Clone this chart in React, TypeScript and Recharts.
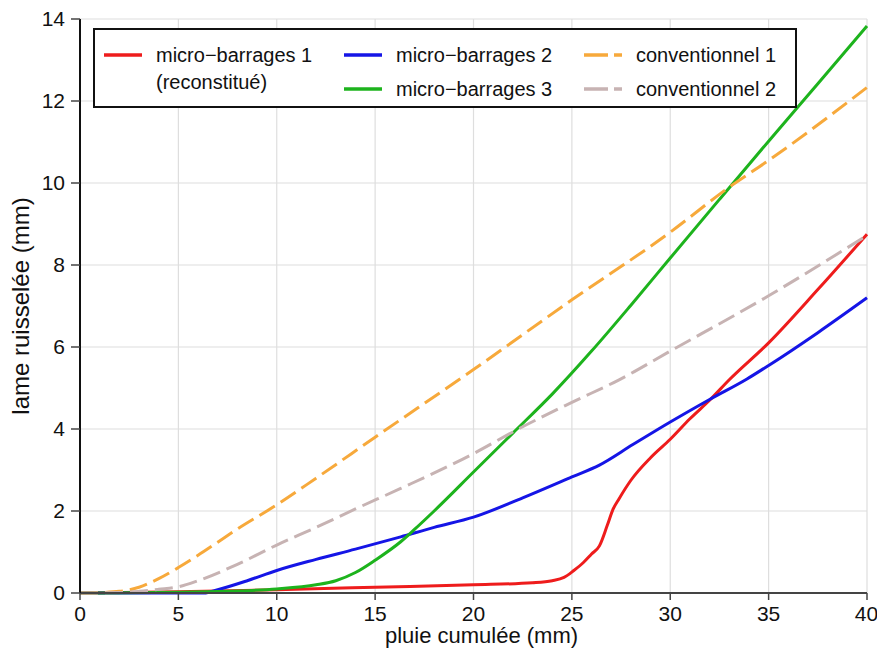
import React from 'react';
import { LineChart, Line, XAxis, YAxis, CartesianGrid, Legend } from 'recharts';

const xTicks = [0, 5, 10, 15, 20, 25, 30, 35, 40];
const yTicks = [0, 2, 4, 6, 8, 10, 12, 14];

// micro-barrages 1 (reconstitué)
const mb1X = [0, 5, 10, 15, 20, 23, 24, 24.6, 25.1, 25.6, 26, 26.4, 26.8, 27.1, 27.4, 28, 29, 30, 31, 32, 33, 35, 37.5, 40];
const mb1Y = [0, 0.03, 0.08, 0.14, 0.2, 0.25, 0.3, 0.38, 0.55, 0.75, 0.95, 1.15, 1.65, 2.05, 2.3, 2.75, 3.3, 3.75, 4.25, 4.7, 5.2, 6.1, 7.4, 8.75];

// micro-barrages 2
const mb2X = [0, 5, 6.3, 7, 8.5, 10, 12, 14, 16.3, 18, 20, 22.5, 25, 26.4, 28.1, 30, 32, 33.9, 35, 37.5, 40];
const mb2Y = [0, 0, 0, 0.08, 0.3, 0.55, 0.82, 1.07, 1.37, 1.6, 1.85, 2.32, 2.83, 3.12, 3.62, 4.17, 4.72, 5.22, 5.55, 6.35, 7.2];

// micro-barrages 3
const mb3X = [0, 5, 8, 10, 12, 13, 14, 15, 16.3, 17, 18, 20, 22, 24, 26, 28, 30, 32.5, 35, 37.5, 40];
const mb3Y = [0, 0.02, 0.05, 0.1, 0.2, 0.3, 0.5, 0.8, 1.25, 1.55, 2.0, 2.95, 3.9, 4.85, 5.9, 7.02, 8.17, 9.6, 11.02, 12.42, 13.83];

// conventionnel 1
const cv1X = [0, 1, 2, 3, 4, 5, 6, 7, 8, 10, 12, 15, 20, 25, 30, 33, 35, 40];
const cv1Y = [0, 0.01, 0.04, 0.14, 0.35, 0.62, 0.92, 1.24, 1.56, 2.15, 2.8, 3.8, 5.45, 7.15, 8.8, 9.9, 10.55, 12.33];

// conventionnel 2
const cv2X = [0, 2, 3, 4, 5, 6, 8, 10, 12, 14, 16.3, 20, 22.2, 25, 27.4, 30, 35, 40];
const cv2Y = [0, 0.01, 0.04, 0.09, 0.15, 0.3, 0.7, 1.17, 1.6, 2.05, 2.55, 3.4, 3.98, 4.65, 5.2, 5.9, 7.25, 8.72];

const toPts = (xs: number[], ys: number[]) => xs.map((x, i) => ({ x, y: ys[i] }));

const series = [
  { name: 'micro−barrages 1', sub: '(reconstitué)', color: '#ee1c1c', dash: undefined, pts: toPts(mb1X, mb1Y) },
  { name: 'micro−barrages 2', color: '#1515e6', dash: undefined, pts: toPts(mb2X, mb2Y) },
  { name: 'micro−barrages 3', color: '#1db31d', dash: undefined, pts: toPts(mb3X, mb3Y) },
  { name: 'conventionnel 1', color: '#f7a93b', dash: '18 7', pts: toPts(cv1X, cv1Y) },
  { name: 'conventionnel 2', color: '#c7b3b3', dash: '18 7', pts: toPts(cv2X, cv2Y) },
];

const font = '"Liberation Sans", Arial, sans-serif';

function Sample({ color, dash }: { color: string; dash?: string }) {
  return (
    <svg width={38} height={6} style={{ display: 'block' }}>
      <line x1={0} y1={3} x2={38} y2={3} stroke={color} strokeWidth={3.5} strokeDasharray={dash ? '24 6' : undefined} />
    </svg>
  );
}

function LegendBox() {
  const cell = (s: (typeof series)[number]) => (
    <div style={{ display: 'flex', alignItems: 'flex-start' }}>
      <div style={{ width: 52, paddingTop: 10 }}>
        <Sample color={s.color} dash={s.dash} />
      </div>
      <div style={{ lineHeight: '27px' }}>
        <div>{s.name}</div>
        {s.sub && <div>{s.sub}</div>}
      </div>
    </div>
  );
  return (
    <div
      style={{
        boxSizing: 'border-box',
        width: 704,
        height: 80,
        border: '2px solid #111',
        background: '#fff',
        fontFamily: font,
        fontSize: 20,
        color: '#111',
        display: 'grid',
        gridTemplateColumns: '240px 240px 220px',
        gridTemplateRows: '34px 34px',
        padding: '12px 0 0 9px',
      }}
    >
      <div style={{ gridRow: '1 / 3' }}>{cell(series[0])}</div>
      <div>{cell(series[1])}</div>
      <div>{cell(series[3])}</div>
      <div>{cell(series[2])}</div>
      <div>{cell(series[4])}</div>
    </div>
  );
}

export default function App() {
  return (
    <div style={{ position: 'fixed', left: 0, top: 0, background: '#fff' }}>
      <LineChart width={877} height={649} margin={{ top: 19, right: 10, bottom: 0, left: 0 }}>
        <CartesianGrid stroke="#dedede" strokeWidth={1.2} />
        <XAxis
          type="number"
          dataKey="x"
          domain={[0, 40]}
          ticks={xTicks}
          height={56}
          tickSize={7}
          tickMargin={6}
          axisLine={{ stroke: '#444', strokeWidth: 2 }}
          tickLine={{ stroke: '#444', strokeWidth: 1.5 }}
          tick={{ fill: '#111', fontSize: 21, fontFamily: font }}
          label={{ value: 'pluie cumulée (mm)', position: 'insideBottom', offset: 6, dx: 8, fill: '#111', fontSize: 22, fontFamily: font }}
        />
        <YAxis
          type="number"
          domain={[0, 14]}
          ticks={yTicks}
          width={80}
          tickSize={9}
          tickMargin={6}
          axisLine={{ stroke: '#111', strokeWidth: 2 }}
          tickLine={{ stroke: '#444', strokeWidth: 1.5 }}
          tick={{ fill: '#111', fontSize: 21, fontFamily: font }}
          label={{ value: 'lame ruisselée (mm)', angle: -90, position: 'insideLeft', offset: 20, fill: '#111', fontSize: 24, fontFamily: font, style: { textAnchor: 'middle' } }}
        />
        <Legend
          layout="horizontal"
          verticalAlign="middle"
          align="center"
          wrapperStyle={{ top: 28, left: 93, width: 704, height: 80 }}
          content={() => <LegendBox />}
        />
        {series.map((s) => (
          <Line
            key={s.name}
            data={s.pts}
            dataKey="y"
            name={s.name}
            type="monotone"
            stroke={s.color}
            strokeWidth={3}
            strokeDasharray={s.dash}
            dot={false}
            activeDot={false}
            isAnimationActive={false}
          />
        ))}
      </LineChart>
    </div>
  );
}
